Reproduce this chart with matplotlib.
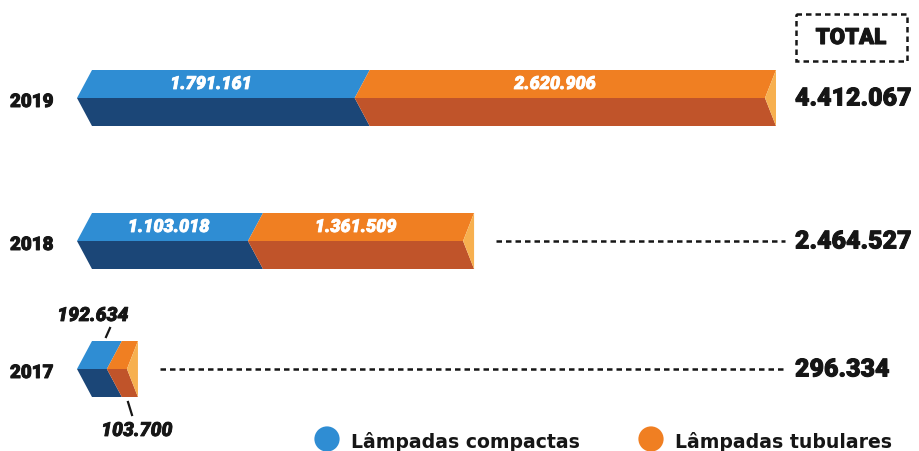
import matplotlib.pyplot as plt
from matplotlib.patches import Polygon, Rectangle
import matplotlib.patheffects as pe

# ---- data ----
years = ['2019', '2018', '2017']
compactas = [1791161, 1103018, 192634]
tubulares = [2620906, 1361509, 103700]
totals = [4412067, 2464527, 296334]
compactas_labels = ['1.791.161', '1.103.018', '192.634']
tubulares_labels = ['2.620.906', '1.361.509', '103.700']
total_labels = ['4.412.067', '2.464.527', '296.334']
legend_labels = ['Lâmpadas compactas', 'Lâmpadas tubulares']

# ---- colours ----
BLUE_TOP = '#2F8DD3'
BLUE_BOT = '#1B4677'
ORANGE_TOP = '#F07F22'
ORANGE_BOT = '#C0542A'
END_FACE = '#F7B04F'
DARK = '#161616'

FONT = 'Roboto'


def heavy(color, lw=1.0):
    # thicken the glyphs a bit, Roboto Black isn't available
    return [pe.withStroke(linewidth=lw, foreground=color)]


W, H = 920, 452
fig = plt.figure(figsize=(W / 100, H / 100), dpi=100)
ax = fig.add_axes([0, 0, 1, 1])

# x axis in value units: value 0 sits at px 92, the 2019 total at px 776
x0_px, x1_px = 92, 776
upp = max(totals) / (x1_px - x0_px)          # value units per pixel
ax.set_xlim(-x0_px * upp, (W - x0_px) * upp)
ax.set_ylim(H, 0)                            # y in pixel-like units, top down
ax.axis('off')


def px(x):
    """figure pixel column -> x data units"""
    return (x - x0_px) * upp


# layout (pixels)
bar_mid = [99, 242, 370]
half_h = 28
depth = 15 * upp        # chevron depth
end_depth = 11 * upp    # depth of the light end face


def prism(x_start, x_end, ymid, top_c, bot_c, d_right):
    top = ymid - half_h
    bot = ymid + half_h
    ax.add_patch(Polygon([(x_start, top), (x_end, top), (x_end - d_right, ymid),
                          (x_start - depth, ymid)], closed=True,
                         facecolor=top_c, edgecolor='none'))
    ax.add_patch(Polygon([(x_start - depth, ymid), (x_end - d_right, ymid),
                          (x_end, bot), (x_start, bot)], closed=True,
                         facecolor=bot_c, edgecolor='none'))


# label nudges (pixels) so the inner numbers sit where the original has them
inner_shift = [(-20, -18), (-9, -13)]

for i, yr in enumerate(years):
    ym = bar_mid[i]
    c, t, tot = compactas[i], tubulares[i], totals[i]
    prism(0, c, ym, BLUE_TOP, BLUE_BOT, depth)
    prism(c, c + t, ym, ORANGE_TOP, ORANGE_BOT, end_depth)
    # light end face
    ax.add_patch(Polygon([(tot, ym - half_h), (tot, ym + half_h),
                          (tot - end_depth, ym)], closed=True,
                         facecolor=END_FACE, edgecolor='none'))

    ax.text(px(10), ym + 4, yr, ha='left', va='center', fontsize=13.5,
            fontweight='heavy', family=FONT, color=DARK,
            path_effects=heavy(DARK, 0.7))

    ax.text(px(795), ym + 0.5, total_labels[i], ha='left', va='center',
            fontsize=18, fontweight='heavy', family=FONT, color=DARK,
            path_effects=heavy(DARK, 0.7))

    if i < 2:
        s1, s2 = inner_shift[i]
        ax.text(c / 2 + s1 * upp, ym - 14, compactas_labels[i], ha='center',
                va='center', fontsize=13, fontweight='heavy', style='italic',
                family=FONT, color='white', path_effects=heavy('white', 0.6))
        ax.text(c + t / 2 + s2 * upp, ym - 14, tubulares_labels[i],
                ha='center', va='center', fontsize=13, fontweight='heavy',
                style='italic', family=FONT, color='white',
                path_effects=heavy('white', 0.6))

    if i > 0:
        ax.plot([tot + 22 * upp, px(785)], [ym, ym],
                color=DARK, lw=1.8, dashes=(2.2, 1.6))

# 2017 small labels with leader lines
c, t = compactas[2], tubulares[2]
ax.plot([px(110), px(106)], [329, 338], color=DARK, lw=1.6)
ax.text(px(93), 317, compactas_labels[2], ha='center', va='center',
        fontsize=14, fontweight='heavy', style='italic', family=FONT,
        color=DARK, path_effects=heavy(DARK, 0.6))
ax.plot([px(128), px(132)], [403, 416], color=DARK, lw=1.6)
ax.text(px(137), 432, tubulares_labels[2], ha='center', va='center',
        fontsize=14, fontweight='heavy', style='italic', family=FONT,
        color=DARK, path_effects=heavy(DARK, 0.6))

# TOTAL header box
ax.add_patch(Rectangle((px(796), 15), 111 * upp, 47,
                       facecolor='none', edgecolor=DARK, lw=1.8,
                       linestyle=(0, (2.2, 1.6))))
ax.text(px(851), 39, 'TOTAL', ha='center', va='center',
        fontsize=16, fontweight='heavy', family=FONT, color=DARK,
        path_effects=heavy(DARK, 0.8))

# legend
for (cx, txt, col) in [(327, legend_labels[0], BLUE_TOP),
                       (651, legend_labels[1], ORANGE_TOP)]:
    ax.scatter([px(cx)], [440], s=330, color=col, edgecolors='none')
    ax.text(px(cx + 24), 442, txt, ha='left', va='center',
            fontsize=13.6, fontweight='bold', family='DejaVu Sans', color=DARK)

fig.savefig('out.png', dpi=100, facecolor='white')
